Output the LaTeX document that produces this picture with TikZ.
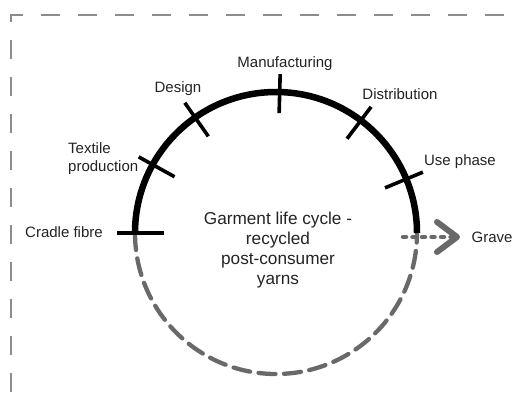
\documentclass[tikz,border=0pt]{standalone}
\usepackage{fontspec}
\setmainfont{Liberation Sans}
\definecolor{bordergray}{RGB}{140,140,140}
\definecolor{dashgray}{RGB}{105,105,105}
\definecolor{txt}{RGB}{35,35,35}
\begin{document}
\begin{tikzpicture}[x=1pt,y=1pt,
  border/.style={draw=bordergray, line width=1.4pt, dash pattern=on 19pt off 18pt, dash phase=21pt},
  lifearc/.style={draw=black, line width=6.5pt},
  endarc/.style={draw=dashgray, line width=4.3pt, line cap=round, dash pattern=on 17pt off 8.5pt},
  tickline/.style={draw=black, line width=3.6pt},
  lbl/.style={font=\fontsize{15}{18}\selectfont, text=txt, inner sep=0pt},
  centertext/.style={font=\fontsize{17.2}{20}\selectfont, text=txt, inner sep=0pt, align=center},
  graveshaft/.style={draw=dashgray, line width=4.5pt, line cap=round, dash pattern=on 3pt off 6.5pt},
  chevron/.style={draw=dashgray, line width=6pt, line cap=round, line join=round}
]
\useasboundingbox (0,0) rectangle (521,408);
% dashed frame
\draw[border] (11,0) -- (11,393) -- (521,393);
% circle
\coordinate (C) at (276,175);
\draw[endarc] ([shift={(180:141)}]C) arc[start angle=180, end angle=360, radius=141];
\draw[lifearc] ([shift={(180:141)}]C) arc[start angle=180, end angle=0, radius=141];
% ticks
\draw[tickline] ([shift={(180:112)}]C) -- ([shift={(180:159)}]C);
\draw[tickline] ([shift={(151:116)}]C) -- ([shift={(151:157)}]C);
\draw[tickline] ([shift={(125:118)}]C) -- ([shift={(125:159)}]C);
\draw[tickline] ([shift={(88.5:120)}]C) -- ([shift={(88.5:159)}]C);
\draw[tickline] ([shift={(53:118)}]C) -- ([shift={(53:158)}]C);
\draw[tickline] ([shift={(22.5:118)}]C) -- ([shift={(22.5:159)}]C);
% labels
\node[lbl, anchor=base] (manu) at (285,341) {Manufacturing};
\node[lbl, anchor=base] (design) at (178,316) {Design};
\node[lbl, anchor=base] (distr) at (400,309) {Distribution};
\node[lbl, anchor=base west, align=left] (textile) at (68,237) {Textile\\production};
\node[lbl, anchor=base] (use) at (460,243) {Use phase};
\node[lbl, anchor=base] (cradle) at (64,171) {Cradle fibre};
\node[lbl, anchor=base] (grave) at (492,166) {Grave};
\node[centertext, anchor=base] (title) at (278,124) {Garment life cycle -\\recycled\\post-consumer\\yarns};
% grave arrow
\coordinate (gs) at (403,171);
\coordinate (gtip) at (457,171);
\draw[graveshaft] (gs) -- ([xshift=-4pt]gtip);
\draw[chevron] ([shift={(-20,15)}]gtip) -- (gtip) -- ([shift={(-20,-15)}]gtip);
\end{tikzpicture}
\end{document}
